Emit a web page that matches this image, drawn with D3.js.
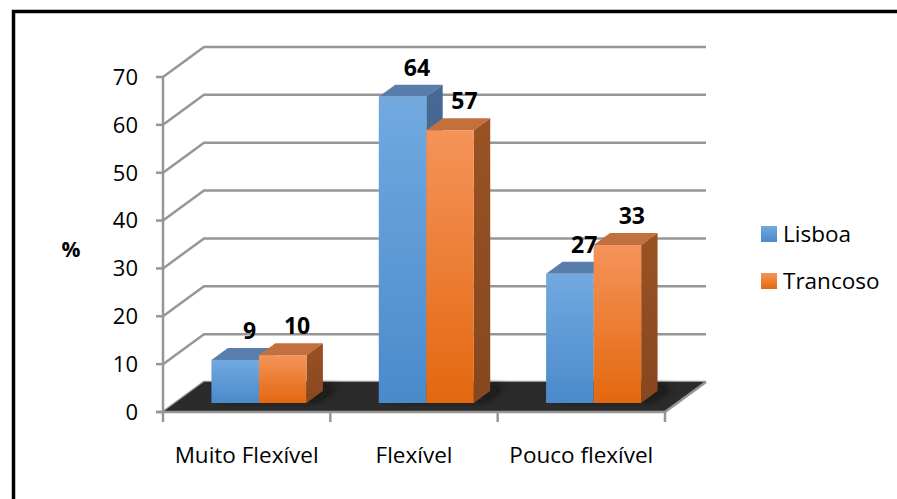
<!DOCTYPE html>
<html>
<head>
<meta charset="utf-8">
<script src="https://cdn.jsdelivr.net/npm/d3@7"></script>
<style>
  html, body { margin: 0; padding: 0; background: #fff; }
  svg { display: block; font-family: "Open Sans", Lato, sans-serif; }
</style>
</head>
<body>
<svg id="chart" width="897" height="499"></svg>
<script>
// data
var categories = ['Muito Flexível', 'Flexível', 'Pouco flexível'];
var series = ['Lisboa', 'Trancoso'];
var lisboa = [9, 64, 27];
var trancoso = [10, 57, 33];
var yTicks = [0, 10, 20, 30, 40, 50, 60, 70];

var values = [lisboa, trancoso];

var svg = d3.select('#chart'),
    DX = 41, DY = 30,          // depth of the 3d box
    d0 = 0.3, d1 = 0.7;        // depth span of the bars

var x = d3.scaleBand().domain(categories).range([163, 665])
    .paddingInner(0.432).paddingOuter(0.216);
var xs = d3.scaleBand().domain(series).range([0, x.bandwidth()]);
var y = d3.scaleLinear().domain([0, 70]).range([412, 77]);

var colors = {
    Lisboa:   { top: '#5a7eab', side: '#466a94', g0: '#72a9e0', g1: '#4a8acb' },
    Trancoso: { top: '#c2703d', side: '#9a5224', g0: '#f5935a', g1: '#e3680f' }
};

var defs = svg.append('defs');
series.forEach(function (s) {
    var g = defs.append('linearGradient').attr('id', 'g-' + s)
        .attr('x1', 0).attr('y1', 0).attr('x2', 0).attr('y2', 1);
    g.append('stop').attr('offset', 0).attr('stop-color', colors[s].g0);
    g.append('stop').attr('offset', 1).attr('stop-color', colors[s].g1);
    var sg = defs.append('linearGradient').attr('id', 'gs-' + s)
        .attr('x1', 0).attr('y1', 0).attr('x2', 0).attr('y2', 1);
    sg.append('stop').attr('offset', 0).attr('stop-color', colors[s].side);
    sg.append('stop').attr('offset', 1).attr('stop-color', d3.color(colors[s].side).darker(0.4));
});
defs.append('filter').attr('id', 'blur')
    .attr('x', -0.5).attr('y', -0.5).attr('width', 2).attr('height', 2)
    .append('feGaussianBlur').attr('stdDeviation', 4);

function pt(px, py, d) { return [px + d * DX, py - d * DY]; }
function poly(pts) { return pts.map(function (p) { return p.join(','); }).join(' '); }

var x0 = x.range()[0], x1 = x.range()[1];

// back wall grid
var grid = svg.append('g').attr('stroke', '#969696').attr('stroke-width', 2.5).attr('fill', 'none');
yTicks.forEach(function (t) {
    var a = pt(x0, y(t), 0), b = pt(x0, y(t), 1), c = pt(x1, y(t), 1);
    grid.append('polyline').attr('points', poly([a, b, c]));
});

// floor
svg.append('polygon')
    .attr('points', poly([pt(x0, y(0), 0), pt(x0, y(0), 1), pt(x1, y(0), 1), pt(x1, y(0), 0)]))
    .attr('fill', '#2b2b2b');

// shadows under the bars
categories.forEach(function (c, i) {
    var l = x(c), r = x(c) + x.bandwidth();
    svg.append('polygon')
        .attr('points', poly([pt(l + 6, y(0), d0 + 0.1), pt(l + 6, y(0), d1 + 0.15),
            pt(r + 8, y(0), d1 + 0.15), pt(r + 8, y(0), d0 + 0.1)]))
        .attr('fill', '#0a0a0a').attr('opacity', 0.8).attr('filter', 'url(#blur)');
});

// bars
var bars = svg.append('g');
categories.forEach(function (c, i) {
    series.forEach(function (s, j) {
        var v = values[j][i],
            l = x(c) + xs(s), r = l + xs.bandwidth(),
            top = y(v), bot = y(0);
        var g = bars.append('g');
        g.append('polygon').attr('fill', colors[s].top)
            .attr('points', poly([pt(l, top, d0), pt(l, top, d1), pt(r, top, d1), pt(r, top, d0)]));
        g.append('polygon').attr('fill', 'url(#gs-' + s + ')')
            .attr('points', poly([pt(r, top, d0), pt(r, top, d1), pt(r, bot, d1), pt(r, bot, d0)]));
        var f0 = pt(l, top, d0), f1 = pt(r, bot, d0);
        g.append('rect').attr('fill', 'url(#g-' + s + ')')
            .attr('x', f0[0]).attr('y', f0[1])
            .attr('width', f1[0] - f0[0]).attr('height', f1[1] - f0[1]);
    });
});

// data labels
categories.forEach(function (c, i) {
    series.forEach(function (s, j) {
        var v = values[j][i],
            l = x(c) + xs(s),
            p = pt(l + xs.bandwidth() / 2, y(v), d1);
        svg.append('text')
            .attr('x', p[0] - 2).attr('y', p[1] - 9)
            .attr('text-anchor', 'middle')
            .attr('font-size', 23).attr('font-weight', 'bold')
            .text(v);
    });
});

// front axes
var ax = svg.append('g').attr('stroke', '#969696').attr('stroke-width', 2.5);
ax.append('line').attr('x1', x0).attr('x2', x0).attr('y1', y(70)).attr('y2', y(0) + 10);
ax.append('line').attr('x1', x0 - 7).attr('x2', x1).attr('y1', y(0)).attr('y2', y(0));
ax.append('line')
    .attr('x1', x1).attr('y1', y(0))
    .attr('x2', pt(x1, y(0), 1)[0]).attr('y2', pt(x1, y(0), 1)[1]);
yTicks.forEach(function (t) {
    ax.append('line').attr('x1', x0 - 7).attr('x2', x0).attr('y1', y(t)).attr('y2', y(t));
});
categories.forEach(function (c) {
    var bx = x(c) + x.bandwidth() + x.step() * x.paddingInner() / 2;
    ax.append('line').attr('x1', bx).attr('x2', bx).attr('y1', y(0)).attr('y2', y(0) + 10);
});

// tick labels
svg.append('g').selectAll('text').data(yTicks).join('text')
    .attr('x', 138).attr('y', function (d) { return y(d); })
    .attr('dy', '0.36em').attr('text-anchor', 'end')
    .attr('font-size', 22).attr('fill', '#000')
    .text(function (d) { return d; });

svg.append('g').selectAll('text').data(categories).join('text')
    .attr('x', function (d) { return x(d) + x.bandwidth() / 2; })
    .attr('y', 463).attr('text-anchor', 'middle')
    .attr('font-size', 22.5)
    .text(function (d) { return d; });

svg.append('text').attr('x', 71).attr('y', 257).attr('text-anchor', 'middle')
    .attr('font-size', 21).attr('font-weight', 'bold').text('%');

// legend
var leg = svg.append('g').selectAll('g').data(series).join('g')
    .attr('transform', function (d, i) { return 'translate(761,' + (226 + i * 47) + ')'; });
leg.append('rect').attr('width', 16).attr('height', 16)
    .attr('fill', function (d) { return 'url(#g-' + d + ')'; });
leg.append('text').attr('x', 22).attr('y', 15.5).attr('font-size', 22.5)
    .text(function (d) { return d; });

// chart frame
svg.append('path').attr('d', 'M13.5,499 V11.5 H897')
    .attr('fill', 'none').attr('stroke', '#000').attr('stroke-width', 3.5);
</script>
</body>
</html>
